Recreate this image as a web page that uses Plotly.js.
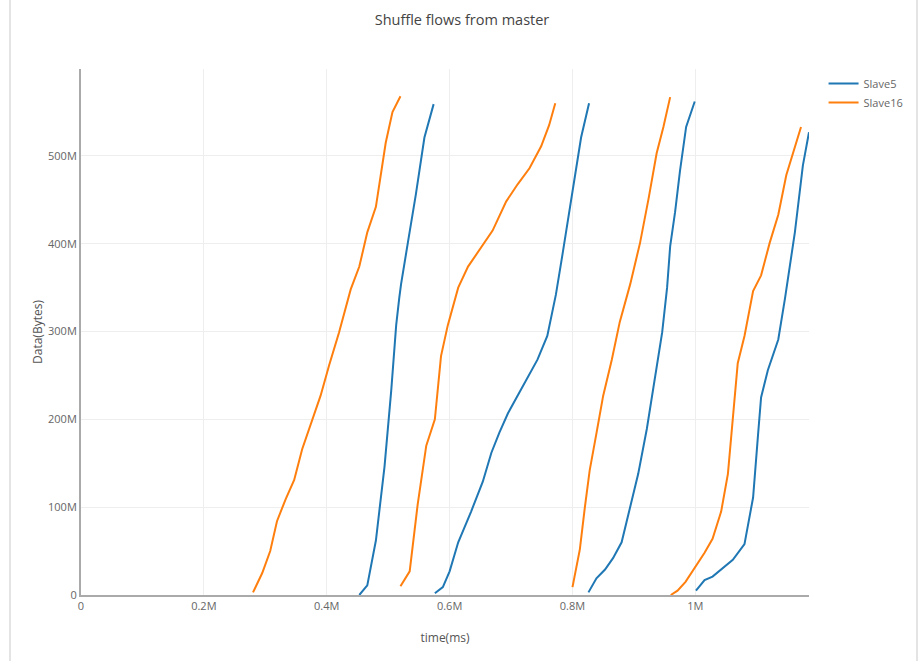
<!DOCTYPE html>
<html>
<head>
<meta charset="utf-8">
<script src="https://cdn.plot.ly/plotly-3.0.1.min.js"></script>
<style>
  html, body { margin: 0; padding: 0; background: #fff; }
  #wrap { position: relative; width: 924px; height: 661px; }
  #chart { width: 924px; height: 661px; }
  #frame {
    position: absolute; left: 9px; top: 0; width: 905px; height: 661px;
    border-left: 2px solid #e4e4e4; border-right: 2px solid #e4e4e4;
    pointer-events: none;
  }
</style>
</head>
<body>
<div id="wrap">
  <div id="chart"></div>
  <div id="frame"></div>
</div>
<script>
// Shuffle flows, four transfer rounds per slave; null separates rounds.
// Time in millions of ms, data in millions of bytes.
const slave5Time = [
  0.453, 0.466, 0.480, 0.494, 0.505, 0.513, 0.518, 0.521, 0.532, 0.545, 0.559, 0.574, null,
  0.576, 0.589, 0.600, 0.614, 0.635, 0.654, 0.668, 0.681, 0.695, 0.716, 0.743, 0.759, 0.773, 0.784, 0.797, 0.814, 0.827, null,
  0.826, 0.839, 0.853, 0.866, 0.880, 0.894, 0.907, 0.921, 0.935, 0.946, 0.954, 0.959, 0.967, 0.975, 0.985, 0.999, null,
  1.001, 1.015, 1.028, 1.045, 1.061, 1.080, 1.094, 1.102, 1.107, 1.118, 1.135, 1.146, 1.162, 1.175, 1.185
];
const slave5Bytes = [
  0, 11, 62, 146, 233, 307, 338, 354, 401, 456, 521, 559, null,
  2, 9, 27, 60, 95, 129, 162, 185, 207, 233, 268, 295, 342, 389, 444, 521, 560, null,
  3, 19, 29, 42, 60, 99, 138, 189, 248, 299, 350, 397, 436, 483, 533, 562, null,
  5, 17, 21, 31, 40, 58, 111, 182, 225, 256, 291, 338, 413, 489, 527
];
const slave16Time = [
  0.280, 0.295, 0.308, 0.319, 0.333, 0.347, 0.360, 0.374, 0.390, 0.404, 0.420, 0.439, 0.453, 0.466, 0.480, 0.496, 0.507, 0.520, null,
  0.520, 0.535, 0.548, 0.562, 0.576, 0.586, 0.597, 0.614, 0.630, 0.651, 0.670, 0.692, 0.711, 0.730, 0.749, 0.762, 0.772, null,
  0.800, 0.812, 0.820, 0.828, 0.839, 0.850, 0.864, 0.877, 0.894, 0.910, 0.924, 0.937, 0.948, 0.959, null,
  0.960, 0.971, 0.984, 1.001, 1.015, 1.028, 1.042, 1.053, 1.061, 1.069, 1.080, 1.094, 1.107, 1.121, 1.135, 1.148, 1.172
];
const slave16Bytes = [
  3, 25, 50, 84, 109, 131, 166, 195, 227, 262, 299, 348, 374, 413, 442, 515, 550, 568, null,
  10, 27, 103, 170, 200, 272, 307, 350, 374, 395, 415, 448, 468, 486, 511, 535, 560, null,
  9, 52, 99, 142, 184, 227, 268, 311, 354, 401, 452, 503, 533, 567, null,
  0, 5, 15, 33, 48, 64, 95, 138, 197, 264, 295, 346, 364, 401, 433, 478, 533
];
const seriesNames = ['Slave5', 'Slave16'];

const MEGA = 1e6;
const scale = arr => arr.map(v => (v === null ? null : v * MEGA));

const traces = [
  {
    name: seriesNames[0], type: 'scatter', mode: 'lines',
    x: scale(slave5Time), y: scale(slave5Bytes), connectgaps: false,
    line: { color: '#1f77b4', width: 2 }
  },
  {
    name: seriesNames[1], type: 'scatter', mode: 'lines',
    x: scale(slave16Time), y: scale(slave16Bytes), connectgaps: false,
    line: { color: '#ff7f0e', width: 2 }
  }
];

const layout = {
  width: 924, height: 661,
  margin: { l: 81, r: 115, t: 69, b: 66 },
  paper_bgcolor: '#fff', plot_bgcolor: '#fff',
  font: { family: '"Open Sans", sans-serif', size: 11, color: '#666' },
  title: {
    text: 'Shuffle flows from master',
    font: { size: 14.5, color: '#444' },
    x: 0.5, xref: 'container', y: 0.97, yref: 'container', yanchor: 'middle'
  },
  xaxis: {
    title: { text: 'time(ms)', font: { size: 12, color: '#555' } },
    range: [0, 1.185 * MEGA],
    showgrid: true, gridcolor: '#eee',
    showline: true, linecolor: '#aaa', linewidth: 2,
    zeroline: false, ticks: ''
  },
  yaxis: {
    title: { text: 'Data(Bytes)', font: { size: 12, color: '#555' } },
    range: [0, 599 * MEGA],
    showgrid: true, gridcolor: '#eee',
    showline: true, linecolor: '#aaa', linewidth: 2,
    zeroline: false, ticks: ''
  },
  legend: { x: 1.02, y: 1, font: { size: 11, color: '#666' } },
  showlegend: true
};

Plotly.newPlot('chart', traces, layout, { displayModeBar: false, staticPlot: true });
</script>
</body>
</html>
